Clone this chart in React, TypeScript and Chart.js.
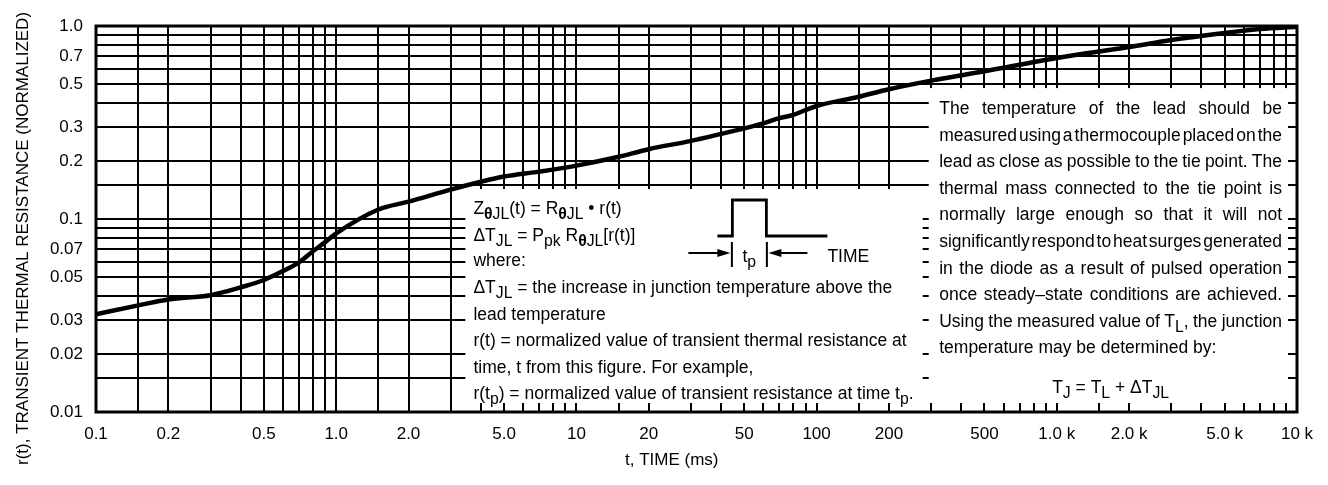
import React, { useEffect, useRef } from 'react';
import { Chart, registerables } from 'chart.js';

Chart.register(...registerables);

// ---------- data ----------
const timeMs = [0.1, 0.15, 0.2, 0.3, 0.35, 0.4, 0.5, 0.6, 0.7, 0.8, 0.9, 1.0, 1.5, 2, 3, 4, 5, 7, 10, 15, 20, 30, 40, 50, 60, 70, 80, 90, 100, 150, 200, 300, 500, 1000, 2000, 3000, 5000, 7000, 10000];
const rNormalized = [0.0321, 0.0357, 0.0383, 0.0403, 0.0422, 0.0442, 0.0483, 0.0537, 0.0596, 0.0681, 0.0759, 0.0842, 0.112, 0.123, 0.142, 0.156, 0.166, 0.176, 0.189, 0.21, 0.23, 0.254, 0.276, 0.295, 0.313, 0.333, 0.346, 0.367, 0.385, 0.43, 0.47, 0.521, 0.583, 0.683, 0.778, 0.846, 0.92, 0.965, 0.99];

const gridSteps = [1, 1.5, 2, 3, 4, 5, 6, 7, 8, 9];
const xDecades = [0.1, 1, 10, 100, 1000];
const yDecades = [0.01, 0.1];
const xMin = 0.1;
const xMax = 10000;
const yMin = 0.01;
const yMax = 1;

const xLabelValues = [0.1, 0.2, 0.5, 1, 2, 5, 10, 20, 50, 100, 200, 500, 1000, 2000, 5000, 10000];
const xLabelTexts = ['0.1', '0.2', '0.5', '1.0', '2.0', '5.0', '10', '20', '50', '100', '200', '500', '1.0 k', '2.0 k', '5.0 k', '10 k'];
const yLabelValues = [0.01, 0.02, 0.03, 0.05, 0.07, 0.1, 0.2, 0.3, 0.5, 0.7, 1];
const yLabelTexts = ['0.01', '0.02', '0.03', '0.05', '0.07', '0.1', '0.2', '0.3', '0.5', '0.7', '1.0'];

const xTitle = 't, TIME (ms)';
const yTitle = 'r(t), TRANSIENT THERMAL RESISTANCE (NORMALIZED)';

const formulaLines = [
  'Z_{θJL}(t) = R_{θJL} • r(t)',
  'ΔT_{JL} = P_{pk} R_{θJL}[r(t)]',
  'where:',
  'ΔT_{JL} = the increase in junction temperature above the',
  'lead temperature',
  'r(t) = normalized value of transient thermal resistance at',
  'time, t from this figure. For example,',
  'r(t_{p}) = normalized value of transient resistance at time t_{p}.',
];
const pulseLabel = 't_{p}';
const pulseAxisLabel = 'TIME';

const leadLines = [
  'The temperature of the lead should be',
  'measured using a thermocouple placed on the',
  'lead as close as possible to the tie point. The',
  'thermal mass connected to the tie point is',
  'normally large enough so that it will not',
  'significantly respond to heat surges generated',
  'in the diode as a result of pulsed operation',
  'once steady–state conditions are achieved.',
  'Using the measured value of T_{L}, the junction',
  'temperature may be determined by:',
];
const leadFormula = 'T_{J} = T_{L} + ΔT_{JL}';

// ---------- helpers ----------
const FAMILY = '"Liberation Sans", Arial, Helvetica, sans-serif';

function buildGrid(decades: number[], max: number): number[] {
  const out: number[] = [];
  decades.forEach((d) => gridSteps.forEach((s) => out.push(d * s)));
  out.push(max);
  return out;
}

function labelFor(v: number, values: number[], texts: string[]): string {
  for (let i = 0; i < values.length; i++) {
    if (Math.abs(Math.log10(v) - Math.log10(values[i])) < 1e-6) return texts[i];
  }
  return '';
}

type Seg = { t: string; sub: boolean };
function parseRich(s: string): Seg[] {
  const out: Seg[] = [];
  const re = /_\{([^}]*)\}/g;
  let last = 0;
  let m: RegExpExecArray | null;
  while ((m = re.exec(s))) {
    if (m.index > last) out.push({ t: s.slice(last, m.index), sub: false });
    out.push({ t: m[1], sub: true });
    last = m.index + m[0].length;
  }
  if (last < s.length) out.push({ t: s.slice(last), sub: false });
  return out;
}

function drawSegs(ctx: CanvasRenderingContext2D, segs: Seg[], x: number, y: number, size: number, draw: boolean): number {
  let cx = x;
  for (const seg of segs) {
    if (!seg.sub) {
      ctx.font = `${size}px ${FAMILY}`;
      if (draw) ctx.fillText(seg.t, cx, y);
      cx += ctx.measureText(seg.t).width;
    } else {
      const ss = size * 0.9;
      for (const ch of seg.t) {
        ctx.font = `${ch === 'θ' ? 'bold ' : ''}${ss}px ${FAMILY}`;
        if (draw) ctx.fillText(ch, cx, y + size * 0.27);
        cx += ctx.measureText(ch).width;
      }
    }
  }
  return cx - x;
}

function drawJustified(ctx: CanvasRenderingContext2D, line: string, x0: number, x1: number, y: number, size: number, justify: boolean) {
  const words = line.split(' ').map(parseRich);
  const widths = words.map((w) => drawSegs(ctx, w, 0, 0, size, false));
  const sum = widths.reduce((a, b) => a + b, 0);
  ctx.font = `${size}px ${FAMILY}`;
  const space = ctx.measureText(' ').width;
  const W = x1 - x0;
  let gap = space;
  let sx = 1;
  if (justify && words.length > 1) {
    gap = (W - sum) / (words.length - 1);
    if (gap < 1.5) {
      gap = 1.5;
      sx = W / (sum + gap * (words.length - 1));
    }
  }
  ctx.save();
  ctx.translate(x0, y);
  ctx.scale(sx, 1);
  let cx = 0;
  words.forEach((w, i) => {
    drawSegs(ctx, w, cx, 0, size, true);
    cx += widths[i] + gap;
  });
  ctx.restore();
}

function arrowHead(ctx: CanvasRenderingContext2D, tipX: number, y: number, dir: number) {
  ctx.beginPath();
  ctx.moveTo(tipX, y);
  ctx.lineTo(tipX - dir * 13, y - 4);
  ctx.lineTo(tipX - dir * 13, y + 4);
  ctx.closePath();
  ctx.fill();
}

const annotationPlugin = {
  id: 'annotations',
  beforeDatasetsDraw(chart: any) {
    const ctx: CanvasRenderingContext2D = chart.ctx;
    const a = chart.chartArea;
    const xs = chart.scales.x;
    const ys = chart.scales.y;
    ctx.save();
    // white panels covering the grid (grid stubs remain at edges)
    const left = { x0: xs.getPixelForValue(3.45), x1: xs.getPixelForValue(300) - 8.5, y0: ys.getPixelForValue(0.15) + 4, y1: a.bottom - 9 };
    const right = { x0: xs.getPixelForValue(300) - 2.5, x1: a.right - 9, y0: ys.getPixelForValue(0.5) + 4, y1: a.bottom - 9 };
    ctx.fillStyle = '#fff';
    ctx.fillRect(left.x0, left.y0, left.x1 - left.x0, left.y1 - left.y0);
    ctx.fillRect(right.x0, right.y0, right.x1 - right.x0, right.y1 - right.y0);

    ctx.fillStyle = '#000';
    ctx.strokeStyle = '#000';
    ctx.textBaseline = 'alphabetic';
    ctx.textAlign = 'left';

    // left panel text
    const size = 17.5;
    const lx = left.x0 + 8;
    const baseOffsets = [25, 52, 76.5, 104, 130.5, 157, 183.5, 210];
    formulaLines.forEach((ln, i) => {
      drawSegs(ctx, parseRich(ln), lx, left.y0 + baseOffsets[i], size, true);
    });

    // pulse sketch
    const px = left.x0;
    const py = left.y0;
    ctx.lineWidth = 2.8;
    ctx.beginPath();
    ctx.moveTo(px + 252, py + 47);
    ctx.lineTo(px + 267, py + 47);
    ctx.lineTo(px + 267, py + 11);
    ctx.lineTo(px + 301, py + 11);
    ctx.lineTo(px + 301, py + 47);
    ctx.lineTo(px + 362, py + 47);
    ctx.stroke();
    ctx.lineWidth = 2;
    ctx.beginPath();
    ctx.moveTo(px + 223, py + 64);
    ctx.lineTo(px + 258, py + 64);
    ctx.moveTo(px + 315, py + 64);
    ctx.lineTo(px + 342, py + 64);
    ctx.moveTo(px + 266.5, py + 53);
    ctx.lineTo(px + 266.5, py + 78);
    ctx.moveTo(px + 301.5, py + 53);
    ctx.lineTo(px + 301.5, py + 78);
    ctx.stroke();
    arrowHead(ctx, px + 265, py + 64, 1);
    arrowHead(ctx, px + 303, py + 64, -1);
    drawSegs(ctx, parseRich(pulseLabel), px + 277, py + 73, size, true);
    ctx.font = `${size}px ${FAMILY}`;
    ctx.fillText(pulseAxisLabel, px + 362, py + 73);

    // right panel text
    const rx0 = right.x0 + 10.5;
    const rx1 = right.x1 - 6;
    leadLines.forEach((ln, i) => {
      drawJustified(ctx, ln, rx0, rx1, right.y0 + 26 + i * 26.6, size, i < leadLines.length - 1);
    });
    const fSegs = parseRich(leadFormula);
    const fw = drawSegs(ctx, fSegs, 0, 0, size, false);
    drawSegs(ctx, fSegs, (rx0 + rx1) / 2 - fw / 2, right.y0 + 305, size, true);
    ctx.restore();
  },
  afterDatasetsDraw(chart: any) {
    const ctx: CanvasRenderingContext2D = chart.ctx;
    const a = chart.chartArea;
    ctx.save();
    ctx.strokeStyle = '#000';
    ctx.lineWidth = 3;
    ctx.strokeRect(a.left, a.top, a.right - a.left, a.bottom - a.top);
    ctx.restore();
  },
  afterDraw(chart: any) {
    const ctx: CanvasRenderingContext2D = chart.ctx;
    const a = chart.chartArea;
    ctx.save();
    ctx.fillStyle = '#000';
    ctx.font = `17px ${FAMILY}`;
    ctx.textBaseline = 'alphabetic';
    ctx.textAlign = 'left';
    ctx.fillText(xTitle, 625, a.bottom + 53);
    ctx.translate(28, 465);
    ctx.rotate(-Math.PI / 2);
    ctx.fillText(yTitle, 0, 0);
    ctx.restore();
  },
};

export default function App() {
  const ref = useRef<HTMLCanvasElement | null>(null);
  useEffect(() => {
    if (!ref.current) return;
    const xGrid = buildGrid(xDecades, xMax);
    const yGrid = buildGrid(yDecades, yMax);
    const chart = new Chart(ref.current, {
      type: 'line',
      data: {
        datasets: [
          {
            data: timeMs.map((t, i) => ({ x: t, y: rNormalized[i] })),
            borderColor: '#000',
            borderWidth: 4.5,
            pointRadius: 0,
            fill: false,
            cubicInterpolationMode: 'monotone',
          },
        ],
      },
      options: {
        animation: false,
        responsive: false,
        devicePixelRatio: 1,
        layout: { padding: { left: 0, right: 31, top: 26, bottom: 0 } },
        plugins: { legend: { display: false }, tooltip: { enabled: false }, title: { display: false } },
        scales: {
          x: {
            type: 'logarithmic',
            min: xMin,
            max: xMax,
            afterBuildTicks: (s: any) => {
              s.ticks = xGrid.map((v) => ({ value: v }));
            },
            afterFit: (s: any) => {
              s.height = 73;
            },
            grid: { color: '#000', lineWidth: 2, drawTicks: false },
            border: { display: false },
            ticks: {
              autoSkip: false,
              maxRotation: 0,
              minRotation: 0,
              padding: 12,
              color: '#000',
              font: { family: FAMILY, size: 17 },
              callback: (v: any) => labelFor(Number(v), xLabelValues, xLabelTexts),
            },
          },
          y: {
            type: 'logarithmic',
            min: yMin,
            max: yMax,
            afterBuildTicks: (s: any) => {
              s.ticks = yGrid.map((v) => ({ value: v }));
            },
            afterFit: (s: any) => {
              s.width = 96;
            },
            grid: { color: '#000', lineWidth: 2, drawTicks: false },
            border: { display: false },
            ticks: {
              autoSkip: false,
              padding: 13,
              color: '#000',
              font: { family: FAMILY, size: 17 },
              callback: (v: any) => labelFor(Number(v), yLabelValues, yLabelTexts),
            },
          },
        },
      },
      plugins: [annotationPlugin],
    } as any);
    return () => chart.destroy();
  }, []);
  return (
    <div style={{ position: 'absolute', left: 0, top: 0, width: 1328, height: 485, background: '#fff' }}>
      <canvas ref={ref} width={1328} height={485} style={{ display: 'block' }} />
    </div>
  );
}
